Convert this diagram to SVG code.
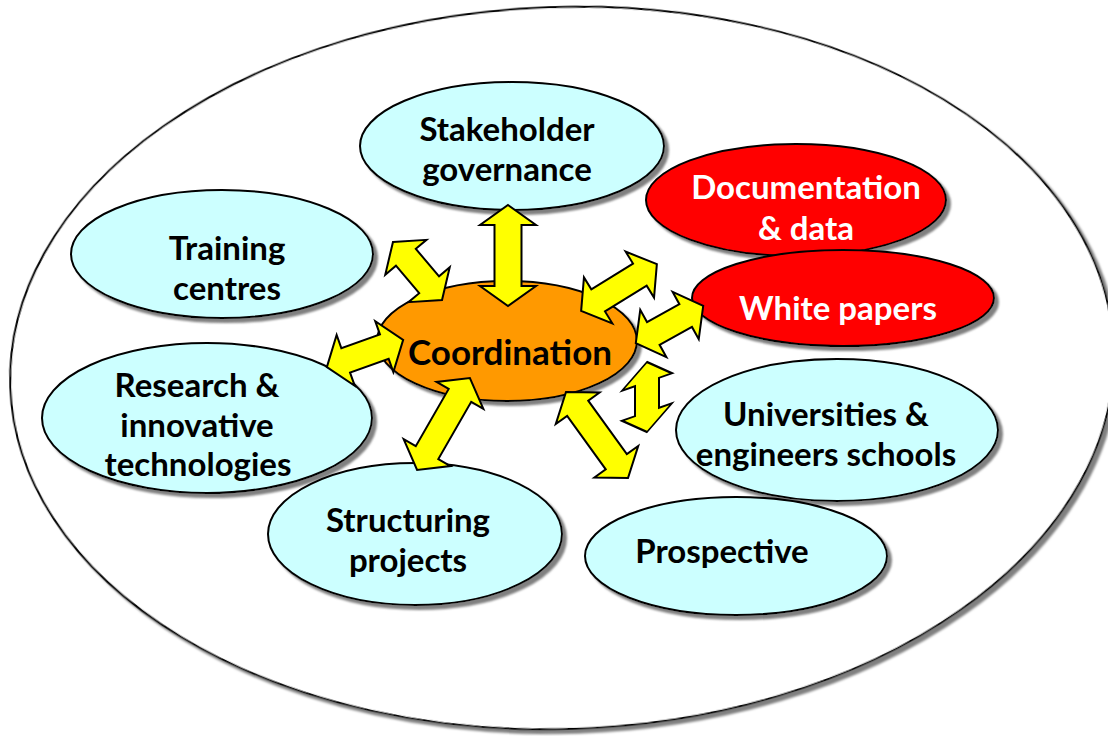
<svg xmlns="http://www.w3.org/2000/svg" width="1108" height="736" viewBox="0 0 1108 736">
<defs>
<filter id="sh" x="-10%" y="-10%" width="120%" height="130%">
<feDropShadow dx="4" dy="4" stdDeviation="0.8" flood-color="#808080" flood-opacity="1"/>
</filter>
<style>
.node{stroke:#000;stroke-width:2;filter:url(#sh)}
.cyan{fill:#CCFFFF}
.red{fill:#FF0000}
.orange{fill:#FF9900}
.t{font-family:Lato,"Liberation Sans",sans-serif;font-weight:bold;font-size:33px;text-anchor:middle;fill:#000}
.w{fill:#fff}
.arrow{fill:#FFFF00;stroke:#000;stroke-width:2;stroke-linejoin:miter}
</style>
</defs>
<rect width="1108" height="736" fill="#fff"/>
<g id="frame">
<ellipse cx="562" cy="368" rx="552" ry="361" transform="rotate(-2 562 368)" fill="#fff" stroke="#000" stroke-width="2" filter="url(#sh)"/>
</g>
<g id="stakeholder">
<ellipse class="node cyan" cx="512" cy="146" rx="152" ry="64"/>
<text class="t" x="507" y="141">Stakeholder</text>
<text class="t" x="507" y="181">governance</text>
</g>
<g id="documentation">
<ellipse class="node red" cx="796" cy="200" rx="150" ry="56"/>
<text class="t w" x="806" y="199">Documentation</text>
<text class="t w" x="806" y="240">&amp; data</text>
</g>
<g id="whitepapers">
<ellipse class="node red" cx="843" cy="298" rx="151" ry="48"/>
<text class="t w" x="838" y="320">White papers</text>
</g>
<g id="training">
<ellipse class="node cyan" cx="222" cy="254" rx="151" ry="64"/>
<text class="t" x="227" y="260">Training</text>
<text class="t" x="227" y="300">centres</text>
</g>
<g id="research">
<ellipse class="node cyan" cx="207" cy="418" rx="165" ry="75"/>
<text class="t" x="197" y="397">Research &amp;</text>
<text class="t" x="197" y="437">innovative</text>
<text class="t" x="198" y="476">technologies</text>
</g>
<g id="universities">
<ellipse class="node cyan" cx="837" cy="430" rx="161" ry="71"/>
<text class="t" x="826" y="426">Universities &amp;</text>
<text class="t" x="826" y="466">engineers schools</text>
</g>
<g id="structuring">
<ellipse class="node cyan" cx="415" cy="534" rx="147" ry="71"/>
<text class="t" x="408" y="532">Structuring</text>
<text class="t" x="408" y="572">projects</text>
</g>
<g id="prospective">
<ellipse class="node cyan" cx="736" cy="556" rx="151" ry="59"/>
<text class="t" x="722" y="563">Prospective</text>
</g>
<g id="coordination">
<ellipse class="node orange" cx="507" cy="341" rx="130" ry="60"/>
<text class="t" x="510" y="365" style="font-size:35px">Coordination</text>
</g>
<g id="connectors">
<polygon class="arrow" transform="translate(508 255.5) rotate(90)" points="-50.5,0 -30.5,-28 -30.5,-13.5 30.5,-13.5 30.5,-28 50.5,0 30.5,28 30.5,13.5 -30.5,13.5 -30.5,28"/>
<polygon class="arrow" transform="translate(417.5 271) rotate(49.8)" points="-38,0 -18,-27 -18,-13 18,-13 18,-27 38,0 18,27 18,13 -18,13 -18,27"/>
<polygon class="arrow" transform="translate(619 287.5) rotate(-31.7)" points="-44.5,0 -24.5,-27 -24.5,-13 24.5,-13 24.5,-27 44.5,0 24.5,27 24.5,13 -24.5,13 -24.5,27"/>
<polygon class="arrow" transform="translate(669.5 324.5) rotate(-28.9)" points="-38.5,0 -18.5,-27 -18.5,-13 18.5,-13 18.5,-27 38.5,0 18.5,27 18.5,13 -18.5,13 -18.5,27"/>
<polygon class="arrow" transform="matrix(1,-0.35,0,1,647,397)" points="0,-35 25,-15 12,-15 12,15 25,15 0,35 -25,15 -12,15 -12,-15 -25,-15"/>
<polygon class="arrow" transform="translate(443.5 424) rotate(119.9)" points="-53,0 -33,-27 -33,-13 33,-13 33,-27 53,0 33,27 33,13 -33,13 -33,27"/>
<polygon class="arrow" transform="translate(365 353.5) rotate(-19.6)" points="-40.5,0 -20.5,-27 -20.5,-13 20.5,-13 20.5,-27 40.5,0 20.5,27 20.5,13 -20.5,13 -20.5,27"/>
<polygon class="arrow" transform="translate(597 435) rotate(54.2)" points="-53,0 -33,-27 -33,-13 33,-13 33,-27 53,0 33,27 33,13 -33,13 -33,27"/>
</g>
</svg>
